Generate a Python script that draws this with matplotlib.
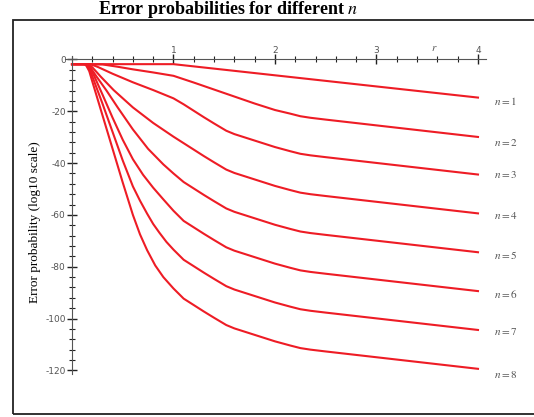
import matplotlib
matplotlib.use("Agg")
import matplotlib.pyplot as plt
from matplotlib.ticker import MultipleLocator
from matplotlib.patches import Rectangle

plt.rcParams["mathtext.fontset"] = "stix"

# curves: r values and log10 error probability
r1 = [0.0, 1.0, 4.0]
v1 = [-1.8, -1.8, -14.7]

r2 = [0.0, 0.3, 0.45, 0.6, 0.8, 1.0, 1.2, 1.4, 1.6, 1.8, 2.0, 2.15, 2.25, 2.35, 2.5, 4.0]
v2 = [-1.8, -1.9, -2.8, -3.8, -5.0, -6.3, -8.9, -11.6, -14.3, -17.0, -19.5, -20.9, -21.9, -22.5, -23.2, -29.9]

r3 = [0.0, 0.18, 0.25, 0.4, 0.6, 0.8, 1.0, 1.1, 1.2, 1.3, 1.4, 1.52, 1.6, 1.8, 2.0, 2.15, 2.25, 2.35, 2.5, 4.0]
v3 = [-1.8, -1.8, -2.8, -5.5, -8.8, -11.8, -15.0, -17.3, -19.8, -22.3, -24.7, -27.5, -28.8, -31.3, -33.8, -35.4, -36.4, -37.0, -37.7, -44.4]

r4 = [0.0, 0.16, 0.2, 0.28, 0.41, 0.6, 0.8, 1.0, 1.1, 1.2, 1.3, 1.4, 1.52, 1.6, 1.8, 2.0, 2.15, 2.25, 2.35, 2.5, 4.0]
v4 = [-1.8, -1.8, -3.0, -6.5, -11.8, -18.5, -24.5, -29.8, -32.3, -34.8, -37.3, -39.7, -42.5, -43.8, -46.3, -48.8, -50.4, -51.4, -52.0, -52.7, -59.4]

r5 = [0.0, 0.15, 0.18, 0.24, 0.34, 0.45, 0.6, 0.75, 0.9, 1.0, 1.1, 1.2, 1.3, 1.4, 1.52, 1.6, 1.8, 2.0, 2.15, 2.25, 2.35, 2.5, 4.0]
v5 = [-1.8, -1.8, -3.0, -6.5, -12.0, -18.5, -27.0, -34.5, -40.5, -44.0, -47.3, -49.8, -52.3, -54.7, -57.5, -58.8, -61.3, -63.8, -65.4, -66.4, -67.0, -67.7, -74.4]

r6 = [0.0, 0.14, 0.17, 0.22, 0.3, 0.4, 0.5, 0.6, 0.7, 0.8, 0.9, 1.0, 1.1, 1.2, 1.3, 1.4, 1.52, 1.6, 1.8, 2.0, 2.15, 2.25, 2.35, 2.5, 4.0]
v6 = [-1.8, -1.8, -3.0, -6.5, -13.5, -22.5, -31.0, -38.5, -44.5, -49.5, -54.0, -58.4, -62.3, -64.8, -67.3, -69.7, -72.5, -73.8, -76.3, -78.8, -80.4, -81.4, -82.0, -82.7, -89.4]

r7 = [0.0, 0.13, 0.16, 0.2, 0.3, 0.4, 0.5, 0.6, 0.67, 0.74, 0.8, 0.86, 0.93, 1.0, 1.1, 1.2, 1.3, 1.4, 1.52, 1.6, 1.8, 2.0, 2.15, 2.25, 2.35, 2.5, 4.0]
v7 = [-1.8, -1.8, -3.0, -6.5, -17.0, -28.0, -39.0, -49.0, -54.5, -59.5, -63.5, -66.8, -70.4, -73.4, -77.3, -79.8, -82.3, -84.7, -87.5, -88.8, -91.3, -93.8, -95.4, -96.4, -97.0, -97.7, -104.4]

r8 = [0.0, 0.12, 0.14, 0.17, 0.2, 0.3, 0.4, 0.5, 0.6, 0.67, 0.74, 0.82, 0.9, 1.0, 1.1, 1.2, 1.3, 1.4, 1.52, 1.6, 1.8, 2.0, 2.15, 2.25, 2.35, 2.5, 4.0]
v8 = [-1.8, -1.8, -2.3, -4.5, -8.5, -21.5, -34.5, -47.5, -60.0, -67.5, -73.6, -79.5, -84.0, -88.4, -92.3, -94.8, -97.3, -99.7, -102.5, -103.8, -106.3, -108.8, -110.4, -111.4, -112.0, -112.7, -119.4]

curves_r = [r1, r2, r3, r4, r5, r6, r7, r8]
curves_v = [v1, v2, v3, v4, v5, v6, v7, v8]
n_labels = ["$n = 1$", "$n = 2$", "$n = 3$", "$n = 4$", "$n = 5$", "$n = 6$", "$n = 7$", "$n = 8$"]
label_y = [-16.0, -32.0, -44.2, -60.3, -75.5, -90.7, -105.1, -121.4]

W, H = 534, 417
fig = plt.figure(figsize=(W / 100, H / 100), dpi=100)

# outer frame (runs off the right edge in the original)
fig.patches.append(Rectangle((12.5 / W, 1 - 413.5 / H), (545 - 12.5) / W, (413.5 - 19.5) / H,
                             transform=fig.transFigure, fill=False, lw=1.3, ec="#222222"))

left, right, top, bottom = 64.9, 486.1, 56.0, 374.0
ax = fig.add_axes([left / W, 1 - bottom / H, (right - left) / W, (bottom - top) / H])
ax.set_xlim(-0.07, 4.08)
ax.set_ylim(-121.4, 1.35)
ax.patch.set_alpha(0)

for r, v in zip(curves_r, curves_v):
    ax.plot(r, v, color="#ee1c25", lw=1.5, solid_joinstyle="round")

for lab, y in zip(n_labels, label_y):
    ax.text(4.16, y, lab, fontsize=8, color="#555555", va="center", ha="left")

for s in ["right", "bottom"]:
    ax.spines[s].set_visible(False)
ax.spines["top"].set_position(("data", 0))
ax.spines["left"].set_position(("data", 0))
ax.spines["top"].set_color("#555555")
ax.spines["left"].set_color("#555555")

ax.xaxis.set_ticks_position("top")
ax.set_xticks([1, 2, 3, 4])
ax.set_xticklabels(["1", "2", "3", "4"])
ax.xaxis.set_minor_locator(MultipleLocator(0.2))
ax.set_yticks([0, -20, -40, -60, -80, -100, -120])
ax.set_yticklabels(["0", "-20", "-40", "-60", "-80", "-100", "-120"])
ax.yaxis.set_minor_locator(MultipleLocator(4))
ax.tick_params(which="major", direction="inout", length=7, width=1, color="#222222",
               labelsize=6.5, labelcolor="#555555", pad=0)
ax.tick_params(which="minor", direction="inout", length=4, width=0.8, color="#222222")
ax.tick_params(axis="y", pad=1)

ax.text(3.57, 4.6, "$r$", fontsize=8, color="#555555", ha="center", va="center")

fig.text(228.7 / W, 1 - 9 / H, "Error probabilities for different $n$",
         family="Liberation Serif", weight="bold", fontsize=13, ha="center", va="center")
fig.text(35 / W, 1 - 222 / H, "Error probability (log10 scale)", family="Liberation Serif",
         fontsize=9.5, rotation=90, ha="center", va="center")

fig.savefig("out.png", dpi=100)
